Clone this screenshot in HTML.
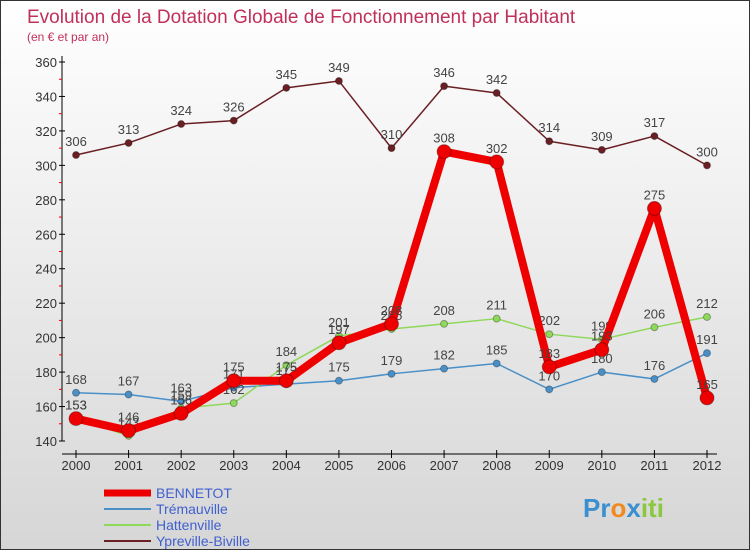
<!DOCTYPE html>
<html><head><meta charset="utf-8"><style>
body{margin:0;width:750px;height:550px;overflow:hidden;font-family:"Liberation Sans",sans-serif}
#c{position:absolute;left:0;top:0;width:748px;height:548px;border:1px solid #333;background:linear-gradient(#fff,#d6d6d6)}
</style></head><body>
<div id="c">
<svg width="750" height="550" id="svg">
<text x="26" y="22" font-size="19" fill="#c0305a">Evolution de la Dotation Globale de Fonctionnement par Habitant</text>
<text x="26" y="40" font-size="12" fill="#c0305a">(en € et par an)</text>
<g id="axes"></g><g id="series"></g>
<g>
<line x1="103" y1="492" x2="150" y2="492" stroke="#e00" stroke-width="7"/><text x="155" y="497" font-size="14" fill="#4060d0">BENNETOT</text>
<line x1="103" y1="508" x2="150" y2="508" stroke="#4a90c8" stroke-width="2"/><text x="155" y="513" font-size="14" fill="#4060d0">Trémauville</text>
<line x1="103" y1="524" x2="150" y2="524" stroke="#8ed85a" stroke-width="2"/><text x="155" y="529" font-size="14" fill="#4060d0">Hattenville</text>
<line x1="103" y1="540" x2="150" y2="540" stroke="#6a1f24" stroke-width="2"/><text x="155" y="545" font-size="14" fill="#4060d0">Ypreville-Biville</text>
</g>
<text x="582" y="516" font-size="26" font-weight="bold"><tspan fill="#3a8fd0">Pr</tspan><tspan fill="#f08a20">o</tspan><tspan fill="#3a8fd0">x</tspan><tspan fill="#8ac840">iti</tspan></text>
</svg></div>
<script>
const years=["2000","2001","2002","2003","2004","2005","2006","2007","2008","2009","2010","2011","2012"];
const yTicks=[140,160,180,200,220,240,260,280,300,320,340,360];
const bennetot=[153,146,156,175,175,197,208,308,302,183,193,275,165];
const tremauville=[168,167,163,171,173,175,179,182,185,170,180,176,191];
const hattenville=[153,143,159,162,184,201,205,208,211,202,199,206,212];
const ypreville=[306,313,324,326,345,349,310,346,342,314,309,317,300];
const NS="http://www.w3.org/2000/svg";
const X=i=>75+i*(706-75)/12;
const Y=v=>440-(v-140)*(440-61)/220;
function mk(t,a,p){const e=document.createElementNS(NS,t);for(const k in a)e.setAttribute(k,a[k]);p.appendChild(e);return e;}
const ax=document.getElementById('axes');
const yl=mk('line',{x1:61,y1:55,x2:61,y2:440,stroke:'#000'},ax);


const xl=mk('line',{x1:61,y1:453,x2:716,y2:453,stroke:'#000'},ax);


yTicks.forEach(v=>{mk('line',{x1:58,y1:Y(v),x2:64,y2:Y(v),stroke:'#000'},ax);
 if(v<360)mk('line',{x1:58,y1:Y(v+10),x2:61,y2:Y(v+10),stroke:'#e00'},ax);
 const t=mk('text',{x:56,y:Y(v)+5,'font-size':13,fill:'#333','text-anchor':'end'},ax);t.textContent=v;
 
 });
years.forEach((y,i)=>{mk('line',{x1:X(i),y1:449,x2:X(i),y2:457,stroke:'#000'},ax);
 const t=mk('text',{x:X(i),y:469,'font-size':13,fill:'#333','text-anchor':'middle'},ax);t.textContent=y;
 
 });
const sg=document.getElementById('series');
function series(d,col,w,r,name){
 const g=mk('g',{},sg);
 
 
 mk('polyline',{points:d.map((v,i)=>X(i)+','+Y(v)).join(' '),fill:'none',stroke:col,'stroke-width':w,'stroke-linejoin':'round'},g);
 d.forEach((v,i)=>{const c=mk('circle',{cx:X(i),cy:Y(v),r:r,fill:col,stroke:'rgba(0,0,0,0.3)'},g);
  
  
  const t=mk('text',{x:X(i),y:Y(v)-9,'font-size':13,fill:'#444','text-anchor':'middle'},g);t.textContent=v;});
}
series(ypreville,'#6a1f24',1.5,3.5,'series-ypreville');
series(tremauville,'#4a90c8',1.5,3.5,'series-tremauville');
series(hattenville,'#8ed85a',1.5,3.5,'series-hattenville');
series(bennetot,'#e00',8,7,'series-bennetot');
</script>
</body></html>
